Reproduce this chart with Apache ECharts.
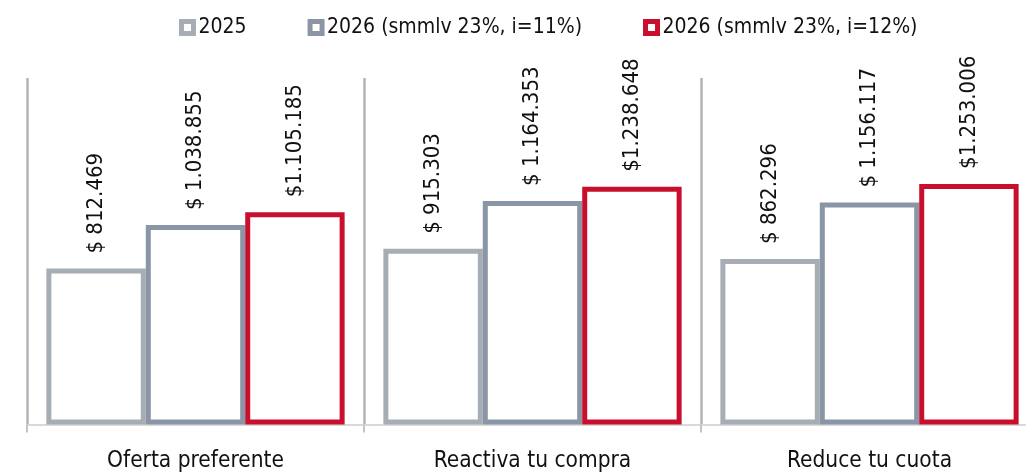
<!DOCTYPE html>
<html><head><meta charset="utf-8">
<script src="https://cdn.jsdelivr.net/npm/echarts@6/dist/echarts.min.js"></script>
<style>html,body{margin:0;padding:0;background:#fff;overflow:hidden}#c{width:1026px;height:472px}</style>
</head><body><div id="c"></div>
<script>
const categories = ["Oferta preferente", "Reactiva tu compra", "Reduce tu cuota"];
const seriesNames = ["2025", "2026 (smmlv 23%, i=11%)", "2026 (smmlv 23%, i=12%)"];
const values2025 = [812469, 915303, 862296];
const values2026a = [1038855, 1164353, 1156117];
const values2026b = [1105185, 1238648, 1253006];
const labelPrefixes = ["$ ", "$ ", "$"];
const colors = ["#a6adb5", "#8a96a5", "#c8102e"];

const FONT = "'Liberation Sans Narrow', 'DejaVu Sans Condensed', sans-serif";
function fmt(v) { return String(v).replace(/\B(?=(\d{3})+(?!\d))/g, "."); }

const allValues = [values2025, values2026a, values2026b];
const chart = echarts.init(document.getElementById('c'), null, {renderer: 'canvas'});
chart.setOption({
  animation: false,
  textStyle: {fontFamily: FONT},
  legend: {
    left: 179, top: 17, padding: 0, itemGap: 61, itemWidth: 12, itemHeight: 12,
    textStyle: {fontFamily: FONT, fontSize: 21, color: '#111'},
    data: seriesNames.map((n, i) => ({name: n, icon: 'rect', itemStyle: {color: '#fff', borderColor: colors[i], borderWidth: 5}}))
  },
  grid: {left: 27, width: 1011, top: 78, bottom: 47.5, outerBoundsMode: 'none', containLabel: false},
  xAxis: {
    type: 'category', data: categories,
    axisLine: {lineStyle: {color: '#d9d9d9', width: 2}},
    axisTick: {show: true, length: 8, lineStyle: {color: '#c4c4c4', width: 2}},
    splitLine: {show: true, lineStyle: {color: '#b3b3b3', width: 2.5}},
    axisLabel: {fontFamily: FONT, fontSize: 22.5, color: '#111', margin: 25}
  },
  yAxis: {type: 'value', min: 0, max: 1805000, show: false, splitLine: {show: false}},
  series: allValues.map((vals, i) => ({
    name: seriesNames[i], type: 'bar', data: vals,
    barGap: '0%', barCategoryGap: '11.5%',
    itemStyle: {color: '#fff', borderColor: colors[i], borderWidth: 5},
    label: {
      show: true, position: 'top', rotate: 90, align: 'left', verticalAlign: 'middle', distance: 15,
      fontFamily: FONT, fontSize: 22, color: '#111',
      formatter: p => labelPrefixes[i] + fmt(p.value)
    }
  }))
});
</script></body></html>
